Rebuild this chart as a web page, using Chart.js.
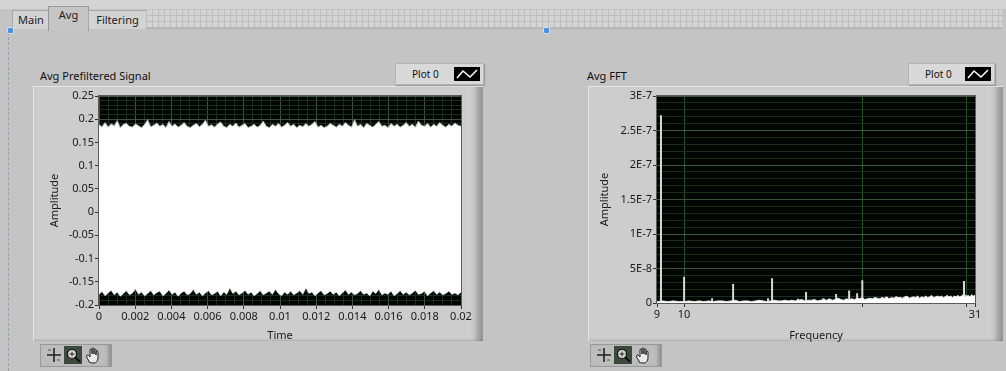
<!DOCTYPE html>
<html>
<head>
<meta charset="utf-8">
<script src="https://cdn.jsdelivr.net/npm/chart.js@4/dist/chart.umd.min.js"></script>
<style>
  body { margin: 0; width: 1006px; height: 371px; overflow: hidden; background: #c4c4c4; position: relative; font-family: "Noto Sans", "Open Sans", sans-serif; }
  .abs { position: absolute; }
  #topbar { left: 0; top: 0; width: 1006px; height: 9px; background: #d4d4d4; }
  .tab { top: 10px; height: 18px; background: #d3d3d3; border: 1px solid #a8a8a8; border-bottom: none; font-size: 11px; color: #222; line-height: 18px; text-align: center; }
  .tab.sel { top: 6px; height: 24px; background: #c6c6c6; line-height: 16px; border-color: #999; }
  #gridstrip { left: 146px; top: 10px; width: 856px; height: 18px; background-color: #d4d4d4;
    background-image: repeating-linear-gradient(90deg, #bdbdbd 0 1px, transparent 1px 6px), repeating-linear-gradient(0deg, #bdbdbd 0 1px, transparent 1px 6px); border-bottom: 1px solid #b0b0b0; }
  #dash { left: 8px; top: 32px; width: 0; height: 339px; border-left: 1px dashed #9aa0a8; }
  .dot { width: 5px; height: 5px; background: #4a8fe0; border: 1px solid #cfe0ff; border-radius: 2px; }
  .frame { top: 86px; height: 254px; background: #cdcdcd; border-top: 1px solid #e6e6e6; border-left: 1px solid #e6e6e6;
    box-shadow: inset -12px 0 6px -6px rgba(0,0,0,0.28), inset 0 -2px 2px -1px rgba(0,0,0,0.15); }
  .ptitle { top: 68px; font-size: 11px; color: #111; }
  .legend { top: 63px; height: 20px; background: #d9d9d9; border: 1px solid #b5b5b5; box-shadow: 1px 1px 1px rgba(0,0,0,0.2); font-size: 10px; color: #111; }
  .legend span { position: absolute; left: 16px; top: 3px; }
  .legend svg { position: absolute; right: 3px; top: 3px; }
  .tools { top: 344px; width: 70px; height: 21px; background: #bdbdbd; border: 1px solid #999; box-shadow: inset -5px 0 4px -3px rgba(0,0,0,0.3); }
  .tools svg { position: absolute; top: 1px; }
  canvas { position: absolute; }
</style>
</head>
<body>
<div id="topbar" class="abs"></div>
<div class="abs tab" style="left:12px;width:36px;">Main</div>
<div class="abs tab sel" style="left:48px;width:39px;">Avg</div>
<div class="abs tab" style="left:88px;width:57px;">Filtering</div>
<div id="gridstrip" class="abs"></div>
<div id="dash" class="abs"></div>
<div class="abs dot" style="left:7px;top:27px;"></div>
<div class="abs dot" style="left:543px;top:27px;"></div>

<div class="abs frame" style="left:33px;width:449px;"></div>
<div class="abs frame" style="left:588px;width:414px;"></div>

<div class="abs ptitle" style="left:40px;">Avg Prefiltered Signal</div>
<div class="abs ptitle" style="left:587px;">Avg FFT</div>

<div class="abs legend" style="left:395px;width:87px;"><span>Plot 0</span>
  <svg width="26" height="14"><rect width="26" height="14" fill="#000"/><polyline points="3,11 9,4 16,10 23,3" fill="none" stroke="#fff" stroke-width="1.5"/></svg></div>
<div class="abs legend" style="left:908px;width:85px;"><span>Plot 0</span>
  <svg width="26" height="14"><rect width="26" height="14" fill="#000"/><polyline points="3,11 9,4 16,10 23,3" fill="none" stroke="#fff" stroke-width="1.5"/></svg></div>

<div class="abs tools" style="left:40px;">
  <svg style="left:4px" width="18" height="18"><path d="M9 2v14M2 9h14" stroke="#222" stroke-width="1.6"/><path d="M3 4h3M12 14h3" stroke="#555" stroke-width="1"/></svg>
  <svg style="left:23px" width="18" height="18"><rect width="18" height="18" fill="#3c4a3c"/><circle cx="8" cy="8" r="4.5" fill="#dcdcdc" stroke="#111" stroke-width="1.2"/><path d="M11 11l5 5" stroke="#111" stroke-width="2"/><path d="M8 5.5v5M5.5 8h5" stroke="#222" stroke-width="1"/></svg>
  <svg style="left:43px" width="18" height="18"><path d="M5 15c-2-3-3-5-2-6s2 1 3 2V4c0-1.5 2-1.5 2 0v4-5c0-1.5 2-1.5 2 0v5-4c0-1.5 2-1.5 2 0v5-3c0-1.5 2-1.5 2 0v6c0 3-2 5-4 5H8c-1 0-2-.5-3-1z" fill="#e8e8e8" stroke="#222" stroke-width="1"/></svg>
</div>
<div class="abs tools" style="left:590px;">
  <svg style="left:4px" width="18" height="18"><path d="M9 2v14M2 9h14" stroke="#222" stroke-width="1.6"/><path d="M3 4h3M12 14h3" stroke="#555" stroke-width="1"/></svg>
  <svg style="left:23px" width="18" height="18"><rect width="18" height="18" fill="#3c4a3c"/><circle cx="8" cy="8" r="4.5" fill="#dcdcdc" stroke="#111" stroke-width="1.2"/><path d="M11 11l5 5" stroke="#111" stroke-width="2"/><path d="M8 5.5v5M5.5 8h5" stroke="#222" stroke-width="1"/></svg>
  <svg style="left:43px" width="18" height="18"><path d="M5 15c-2-3-3-5-2-6s2 1 3 2V4c0-1.5 2-1.5 2 0v4-5c0-1.5 2-1.5 2 0v5-4c0-1.5 2-1.5 2 0v5-3c0-1.5 2-1.5 2 0v6c0 3-2 5-4 5H8c-1 0-2-.5-3-1z" fill="#e8e8e8" stroke="#222" stroke-width="1"/></svg>
</div>

<canvas id="sig" width="432" height="254" style="left:48px;top:88px;"></canvas>
<canvas id="fft" width="392" height="254" style="left:598px;top:88px;"></canvas>

<script>
// ---- Avg Prefiltered Signal: upper / lower envelope of the noisy band
const signalUpper = [
  0.188,0.184,0.193,0.183,0.190,0.186,0.197,0.182,0.189,0.191,
  0.185,0.183,0.190,0.186,0.182,0.189,0.199,0.184,0.187,0.192,
  0.185,0.189,0.182,0.195,0.185,0.190,0.183,0.187,0.193,0.185,
  0.182,0.187,0.191,0.184,0.189,0.198,0.185,0.188,0.183,0.190,
  0.194,0.185,0.182,0.189,0.185,0.192,0.183,0.187,0.191,0.182,
  0.185,0.189,0.183,0.187,0.196,0.185,0.182,0.189,0.185,0.191,
  0.183,0.187,0.193,0.185,0.189,0.182,0.187,0.184,0.191,0.185,
  0.189,0.195,0.183,0.187,0.182,0.185,0.191,0.187,0.183,0.189,
  0.185,0.193,0.187,0.183,0.199,0.185,0.189,0.182,0.191,0.187,
  0.183,0.189,0.195,0.185,0.187,0.182,0.191,0.185,0.189,0.183,
  0.187,0.193,0.185,0.189,0.183,0.196,0.187,0.185,0.191,0.183,
  0.189,0.185,0.193,0.187,0.183,0.189,0.185,0.192,0.187,0.185
];
const signalLower = [
  -0.177,-0.171,-0.180,-0.174,-0.168,-0.178,-0.172,-0.181,-0.175,-0.169,
  -0.178,-0.174,-0.165,-0.177,-0.172,-0.180,-0.175,-0.169,-0.178,-0.173,
  -0.170,-0.180,-0.175,-0.167,-0.177,-0.172,-0.181,-0.174,-0.170,-0.178,
  -0.175,-0.166,-0.177,-0.172,-0.180,-0.174,-0.169,-0.178,-0.175,-0.170,
  -0.180,-0.172,-0.177,-0.163,-0.175,-0.170,-0.178,-0.174,-0.168,-0.177,
  -0.172,-0.180,-0.175,-0.169,-0.178,-0.174,-0.170,-0.177,-0.166,-0.175,
  -0.180,-0.172,-0.177,-0.170,-0.178,-0.174,-0.169,-0.177,-0.163,-0.175,
  -0.172,-0.180,-0.174,-0.169,-0.178,-0.175,-0.170,-0.177,-0.172,-0.180,
  -0.174,-0.167,-0.177,-0.172,-0.178,-0.175,-0.169,-0.177,-0.174,-0.180,
  -0.170,-0.175,-0.166,-0.178,-0.174,-0.177,-0.170,-0.180,-0.175,-0.169,
  -0.177,-0.172,-0.178,-0.174,-0.168,-0.177,-0.175,-0.170,-0.180,-0.174,
  -0.169,-0.177,-0.172,-0.178,-0.175,-0.170,-0.177,-0.174,-0.178,-0.172
];
const timeMax = 0.02;
const signalTickLabels = ['0','0.002','0.004','0.006','0.008','0.01','0.012','0.014','0.016','0.018','0.02'];

// ---- Avg FFT: noise floor (in 1E-9 units, every 0.2 from 9 to 31) and line spikes
const fftStart = 9, fftStep = 0.2;
const fftFloorNano = [
  2,3,2,3,2,2,3,2,3,2,3,
  2,3,3,2,3,4,2,3,3,2,
  3,4,3,2,3,4,3,3,4,3,
  4,3,4,5,3,4,4,5,3,4,
  5,4,6,4,5,7,5,4,6,5,
  6,5,7,6,8,5,6,7,6,8,
  7,6,8,7,9,6,8,7,9,8,
  8,7,9,10,7,8,9,8,10,7,
  9,8,10,8,9,11,8,9,10,9,
  10,8,9,11,9,10,8,10,9,11,
  9,10,12,9,10,11,9,12,10,11
];
const spikeFreq = [9.14, 10.0, 11.15, 12.1, 13.86, 14.08, 15.57, 16.07, 17.2, 18.06, 19.0, 19.6, 20.0, 29.7, 29.85];
const spikeAmp  = [2.72e-7, 3.8e-8, 7e-9, 2.75e-8, 7e-9, 3.6e-8, 6e-9, 1.6e-8, 7e-9, 1.3e-8, 1.8e-8, 1.4e-8, 3.3e-8, 3.2e-8, 1.2e-8];
const freqTicks = [9, 10, 20, 30, 31];
const freqTickLabels = ['9', '10', '', '', '31'];
const ampTickLabels = ['0', '5E-8', '1E-7', '1.5E-7', '2E-7', '2.5E-7', '3E-7'];

const FONT = { family: '"Noto Sans", "Open Sans", sans-serif', size: 11 };
const TXT = '#1a1a1a';
const MAJOR = 'rgba(70,100,70,0.85)';
const MINOR = 'rgba(32,50,32,0.9)';

// black plot background + thin frame
const plotBg = {
  id: 'plotBg',
  beforeDraw(chart) {
    const a = chart.chartArea, c = chart.ctx;
    c.save();
    c.fillStyle = '#020602';
    c.fillRect(a.left, a.top, a.right - a.left, a.bottom - a.top);
    c.restore();
  },
  afterDraw(chart) {
    const a = chart.chartArea, c = chart.ctx;
    c.save();
    c.strokeStyle = '#5a5a5a';
    c.lineWidth = 1;
    c.strokeRect(a.left - 0.5, a.top - 0.5, a.right - a.left + 1, a.bottom - a.top + 1);
    c.restore();
  }
};

function isMult(v, step) {
  return Math.abs(v / step - Math.round(v / step)) < 1e-6;
}

// ---- chart 1
const n = signalUpper.length;
const upperPts = signalUpper.map((y, i) => ({ x: i * timeMax / (n - 1), y }));
const lowerPts = signalLower.map((y, i) => ({ x: i * timeMax / (n - 1), y }));

new Chart(document.getElementById('sig'), {
  type: 'line',
  data: {
    datasets: [
      { data: upperPts, borderColor: '#a8a8a8', borderWidth: 1, backgroundColor: '#ffffff', fill: '+1', pointRadius: 0, tension: 0 },
      { data: lowerPts, borderColor: '#a8a8a8', borderWidth: 1, backgroundColor: '#ffffff', fill: false, pointRadius: 0, tension: 0 }
    ]
  },
  options: {
    responsive: false,
    animation: false,
    devicePixelRatio: 1,
    layout: { padding: { top: 8, right: 19, bottom: 0, left: 0 } },
    plugins: { legend: { display: false }, tooltip: { enabled: false } },
    scales: {
      x: {
        type: 'linear', min: 0, max: timeMax,
        afterFit: s => { s.height = 37; },
        border: { display: false },
        grid: {
          color: c => isMult(c.tick.value, 0.002) ? MAJOR : MINOR,
          tickColor: c => isMult(c.tick.value, 0.002) ? '#333' : 'rgba(0,0,0,0)',
          tickLength: 4
        },
        ticks: {
          stepSize: 0.0005, maxTicksLimit: 100, autoSkip: false, maxRotation: 0,
          padding: 1, color: TXT, font: FONT,
          callback: v => isMult(v, 0.002) ? signalTickLabels[Math.round(v / 0.002)] : ''
        },
        title: { display: true, text: 'Time', color: TXT, font: FONT, padding: { top: 0, bottom: 0 } }
      },
      y: {
        min: -0.2, max: 0.25,
        afterFit: s => { s.width = 51; },
        border: { display: false },
        grid: {
          color: c => isMult(c.tick.value, 0.05) ? MAJOR : MINOR,
          tickColor: c => isMult(c.tick.value, 0.05) ? '#333' : 'rgba(0,0,0,0)',
          tickLength: 4
        },
        ticks: {
          stepSize: 0.01, maxTicksLimit: 100, autoSkip: false,
          padding: 1, color: TXT, font: FONT,
          callback: v => {
            if (!isMult(v, 0.05)) return '';
            const r = Math.round(v * 100) / 100;
            return r === 0 ? '0' : String(r);
          }
        },
        title: { display: true, text: 'Amplitude', color: TXT, font: FONT, padding: { top: 0, bottom: 2 } }
      }
    }
  },
  plugins: [plotBg]
});

// ---- chart 2
const floorPts = fftFloorNano.map((v, i) => ({ x: fftStart + i * fftStep, y: v * 1e-9 }));
const spikePts = [];
spikeFreq.forEach((f, i) => {
  spikePts.push({ x: f, y: 0 }, { x: f, y: spikeAmp[i] }, { x: f, y: null });
});

new Chart(document.getElementById('fft'), {
  type: 'line',
  data: {
    datasets: [
      { data: floorPts, borderColor: '#e6e6e6', borderWidth: 1, backgroundColor: '#ffffff', fill: 'origin', pointRadius: 0, tension: 0 },
      { data: spikePts, borderColor: '#d8d8d8', borderWidth: 2, fill: false, pointRadius: 0, spanGaps: false }
    ]
  },
  options: {
    responsive: false,
    animation: false,
    devicePixelRatio: 1,
    layout: { padding: { top: 8, right: 15, bottom: 0, left: 0 } },
    plugins: { legend: { display: false }, tooltip: { enabled: false } },
    scales: {
      x: {
        type: 'logarithmic', min: 9, max: 31,
        afterBuildTicks: s => { s.ticks = freqTicks.map(v => ({ value: v })); },
        afterFit: s => { s.height = 39; },
        border: { display: false },
        grid: {
          color: c => (c.tick.value === 9 || c.tick.value === 31) ? 'rgba(0,0,0,0)' : 'rgba(45,95,45,0.85)',
          tickColor: '#333', tickLength: 4
        },
        ticks: {
          autoSkip: false, maxRotation: 0, padding: 1, color: TXT, font: FONT,
          callback: v => freqTickLabels[freqTicks.indexOf(v)] || ''
        },
        title: { display: true, text: 'Frequency', color: TXT, font: FONT, padding: { top: 0, bottom: 0 } }
      },
      y: {
        min: 0, max: 3e-7,
        afterFit: s => { s.width = 59; },
        border: { display: false },
        grid: {
          color: c => isMult(c.tick.value, 5e-8) ? MAJOR : MINOR,
          tickColor: c => isMult(c.tick.value, 5e-8) ? '#333' : 'rgba(0,0,0,0)',
          tickLength: 4
        },
        ticks: {
          stepSize: 1e-8, maxTicksLimit: 100, autoSkip: false, padding: 1, color: TXT, font: FONT,
          callback: v => isMult(v, 5e-8) ? ampTickLabels[Math.round(v / 5e-8)] : ''
        },
        title: { display: true, text: 'Amplitude', color: TXT, font: FONT, padding: { top: 0, bottom: 2 } }
      }
    }
  },
  plugins: [plotBg]
});
</script>
</body>
</html>
